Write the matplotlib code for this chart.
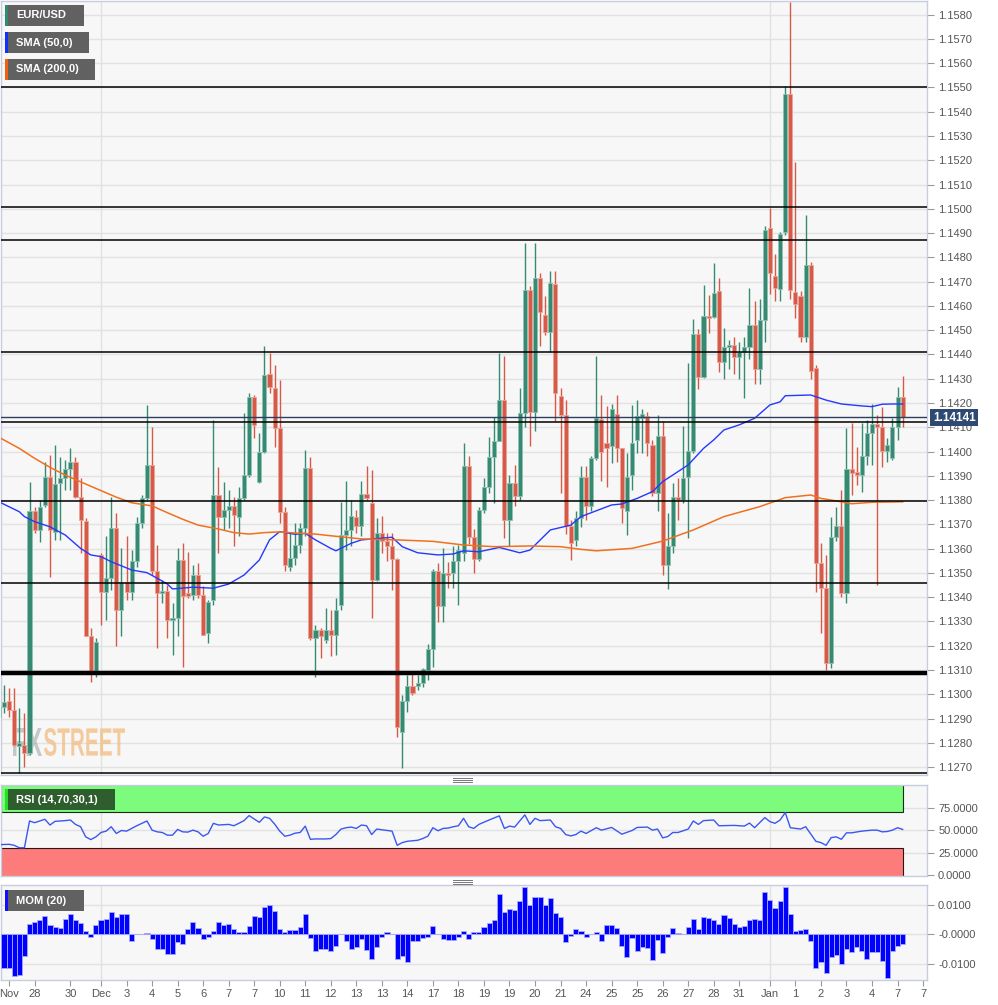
import numpy as np
import matplotlib
matplotlib.use('Agg')
import matplotlib.pyplot as plt
import matplotlib.transforms as mtransforms
from matplotlib.patches import Rectangle, PathPatch
from matplotlib.lines import Line2D
from matplotlib.textpath import TextPath
from matplotlib.font_manager import FontProperties

plt.rcParams['font.family'] = ['Liberation Sans', 'DejaVu Sans']

# ---------------- data (EUR/USD, 4h candles) ----------------
opens = [1.12908, 1.12949, 1.12974, 1.12936, 1.12785, 1.12792, 1.12757, 1.13753, 1.13677, 1.13780,
         1.13897, 1.13670, 1.13869, 1.13890, 1.13927, 1.13959, 1.13814, 1.13714, 1.13241, 1.13087,
         1.13574, 1.13423, 1.13478, 1.13684, 1.13348, 1.13464, 1.13423, 1.13547, 1.13705, 1.13808,
         1.13945, 1.13506, 1.13416, 1.13427, 1.13306, 1.13313, 1.13554, 1.13416, 1.13409, 1.13492,
         1.13409, 1.13252, 1.13389, 1.13821, 1.13732, 1.13760, 1.13776, 1.13732, 1.13808, 1.13904,
         1.14226, 1.13876, 1.13997, 1.14318, 1.14263, 1.14096, 1.13749, 1.13526, 1.13560, 1.13615,
         1.13684, 1.13931, 1.13231, 1.13265, 1.13224, 1.13266, 1.13245, 1.13369, 1.13657, 1.13678,
         1.13730, 1.13694, 1.13825, 1.13788, 1.13472, 1.13664, 1.13632, 1.13609, 1.13557, 1.12846,
         1.12974, 1.13034, 1.13034, 1.13048, 1.13100, 1.13185, 1.13508, 1.13364, 1.13498, 1.13498,
         1.13547, 1.13582, 1.13939, 1.13648, 1.13557, 1.13760, 1.13854, 1.13976, 1.14042, 1.14213,
         1.13719, 1.13870, 1.13815, 1.14158, 1.14666, 1.14165, 1.14714, 1.14563, 1.14491, 1.14691,
         1.14227, 1.14151, 1.13692, 1.13637, 1.13726, 1.13897, 1.13777, 1.13973, 1.14135, 1.14035,
         1.14024, 1.14154, 1.14014, 1.13757, 1.13904, 1.14046, 1.14138, 1.14145, 1.14028, 1.13829,
         1.14064, 1.13533, 1.13609, 1.13812, 1.13801, 1.13894, 1.14003, 1.14485, 1.14306, 1.14559,
         1.14553, 1.14662, 1.14370, 1.14430, 1.14440, 1.14390, 1.14410, 1.14430, 1.14520, 1.14340,
         1.14540, 1.14923, 1.14724, 1.14671, 1.14904, 1.15472, 1.14656, 1.14640, 1.14470, 1.14767,
         1.14343, 1.13539, 1.13436, 1.13127, 1.13649, 1.13693, 1.13416, 1.13928, 1.13914, 1.13903,
         1.13981, 1.14078, 1.14113, 1.14102, 1.14002, 1.13972, 1.14102, 1.14226]
highs = [1.13039, 1.13039, 1.13025, 1.13025, 1.12943, 1.12922, 1.13876, 1.13773, 1.13801, 1.13959,
         1.13986, 1.14027, 1.13979, 1.13965, 1.14014, 1.13979, 1.13890, 1.13725, 1.13272, 1.13231,
         1.13581, 1.13650, 1.13814, 1.13746, 1.13602, 1.13650, 1.13595, 1.13732, 1.13821, 1.14192,
         1.14103, 1.13615, 1.13471, 1.13451, 1.13375, 1.13602, 1.13622, 1.13588, 1.13533, 1.13540,
         1.13444, 1.13389, 1.14130, 1.13938, 1.13876, 1.13842, 1.13814, 1.13856, 1.14158, 1.14240,
         1.14233, 1.14075, 1.14435, 1.14405, 1.14357, 1.14295, 1.13773, 1.13670, 1.13705, 1.13705,
         1.14007, 1.13979, 1.13286, 1.13272, 1.13355, 1.13348, 1.13396, 1.13794, 1.13877, 1.13801,
         1.13760, 1.13880, 1.13939, 1.13925, 1.13726, 1.13733, 1.13664, 1.13664, 1.13560, 1.12997,
         1.13079, 1.13096, 1.13079, 1.13107, 1.13207, 1.13515, 1.13542, 1.13602, 1.13543, 1.13609,
         1.13616, 1.14035, 1.13980, 1.13680, 1.13770, 1.13890, 1.14062, 1.14144, 1.14405, 1.14392,
         1.13904, 1.13945, 1.14261, 1.14861, 1.14683, 1.14861, 1.14735, 1.14639, 1.14745, 1.14745,
         1.14261, 1.14213, 1.13719, 1.13753, 1.13939, 1.13939, 1.13982, 1.14392, 1.14234, 1.14186,
         1.14197, 1.14234, 1.14014, 1.13994, 1.14193, 1.14213, 1.14175, 1.14165, 1.14048, 1.14151,
         1.14124, 1.13746, 1.13872, 1.13890, 1.14106, 1.14364, 1.14545, 1.14504, 1.14686, 1.14645,
         1.14776, 1.14714, 1.14510, 1.14460, 1.14470, 1.14450, 1.14470, 1.14673, 1.14620, 1.14630,
         1.14930, 1.15003, 1.14813, 1.14904, 1.15507, 1.15854, 1.15192, 1.14660, 1.14975, 1.14783,
         1.14356, 1.13624, 1.13574, 1.13732, 1.13773, 1.13841, 1.14095, 1.14116, 1.14020, 1.14116,
         1.14130, 1.14196, 1.14150, 1.14185, 1.14057, 1.14137, 1.14264, 1.14311]
lows = [1.12778, 1.12922, 1.12908, 1.12785, 1.12675, 1.12702, 1.12750, 1.13663, 1.13629, 1.13773,
        1.13485, 1.13636, 1.13636, 1.13842, 1.13842, 1.13808, 1.13581, 1.13238, 1.13052, 1.13073,
        1.13286, 1.13306, 1.13430, 1.13197, 1.13238, 1.13389, 1.13389, 1.13526, 1.13684, 1.13801,
        1.13492, 1.13190, 1.13375, 1.13231, 1.13162, 1.13238, 1.13114, 1.13396, 1.13389, 1.13396,
        1.13245, 1.13210, 1.13368, 1.13581, 1.13677, 1.13684, 1.13609, 1.13650, 1.13801, 1.13897,
        1.14055, 1.13869, 1.13993, 1.14240, 1.14020, 1.13705, 1.13506, 1.13506, 1.13533, 1.13581,
        1.13650, 1.13224, 1.13073, 1.13148, 1.13210, 1.13156, 1.13163, 1.13348, 1.13595, 1.13609,
        1.13664, 1.13650, 1.13801, 1.13314, 1.13465, 1.13582, 1.13547, 1.13431, 1.12825, 1.12695,
        1.12928, 1.12997, 1.13018, 1.13029, 1.13059, 1.13111, 1.13299, 1.13299, 1.13436, 1.13436,
        1.13369, 1.13547, 1.13620, 1.13499, 1.13547, 1.13746, 1.13829, 1.13788, 1.14042, 1.13643,
        1.13609, 1.13774, 1.13801, 1.14103, 1.14021, 1.14083, 1.14433, 1.14481, 1.14412, 1.14124,
        1.13829, 1.13660, 1.13554, 1.13609, 1.13691, 1.13719, 1.13753, 1.13966, 1.13877, 1.13856,
        1.13952, 1.13959, 1.13705, 1.13657, 1.13842, 1.13994, 1.13994, 1.13980, 1.13815, 1.13753,
        1.13492, 1.13433, 1.13581, 1.13719, 1.13787, 1.13643, 1.13993, 1.14257, 1.14302, 1.14487,
        1.14549, 1.14329, 1.14300, 1.14340, 1.14320, 1.14300, 1.14220, 1.14380, 1.14280, 1.14280,
        1.14450, 1.14650, 1.14620, 1.14620, 1.14893, 1.14630, 1.14550, 1.14450, 1.14450, 1.14300,
        1.13423, 1.13251, 1.13100, 1.13107, 1.13630, 1.13402, 1.13375, 1.13821, 1.13862, 1.13835,
        1.13944, 1.13944, 1.13450, 1.13938, 1.13958, 1.13965, 1.14047, 1.14102]
closes = [1.12949, 1.12970, 1.12936, 1.12792, 1.12798, 1.12757, 1.13753, 1.13677, 1.13773, 1.13897,
          1.13677, 1.13867, 1.13890, 1.13927, 1.13959, 1.13814, 1.13718, 1.13241, 1.13087, 1.13217,
          1.13423, 1.13478, 1.13684, 1.13348, 1.13464, 1.13423, 1.13547, 1.13705, 1.13808, 1.13945,
          1.13506, 1.13416, 1.13427, 1.13306, 1.13313, 1.13554, 1.13403, 1.13403, 1.13492, 1.13409,
          1.13245, 1.13382, 1.13821, 1.13732, 1.13760, 1.13776, 1.13739, 1.13808, 1.13904, 1.14226,
          1.14110, 1.13997, 1.14316, 1.14268, 1.14096, 1.13749, 1.13533, 1.13560, 1.13615, 1.13684,
          1.13931, 1.13231, 1.13265, 1.13238, 1.13265, 1.13245, 1.13348, 1.13657, 1.13678, 1.13735,
          1.13694, 1.13825, 1.13808, 1.13472, 1.13664, 1.13632, 1.13609, 1.13557, 1.12866, 1.12972,
          1.13034, 1.13007, 1.13048, 1.13103, 1.13185, 1.13508, 1.13364, 1.13498, 1.13491, 1.13547,
          1.13595, 1.13939, 1.13648, 1.13557, 1.13760, 1.13854, 1.13976, 1.14042, 1.14213, 1.13719,
          1.13870, 1.13815, 1.14158, 1.14666, 1.14165, 1.14714, 1.14577, 1.14491, 1.14694, 1.14243,
          1.14151, 1.13692, 1.13623, 1.13726, 1.13897, 1.13777, 1.13973, 1.14138, 1.14000, 1.14014,
          1.14175, 1.14014, 1.13767, 1.13897, 1.14035, 1.14145, 1.14154, 1.14035, 1.13829, 1.14065,
          1.13533, 1.13609, 1.13812, 1.13801, 1.13890, 1.14003, 1.14485, 1.14306, 1.14559, 1.14549,
          1.14655, 1.14368, 1.14430, 1.14440, 1.14390, 1.14410, 1.14430, 1.14520, 1.14340, 1.14540,
          1.14914, 1.14735, 1.14673, 1.14896, 1.15472, 1.14667, 1.14610, 1.14470, 1.14767, 1.14330,
          1.13539, 1.13436, 1.13127, 1.13649, 1.13693, 1.13416, 1.13928, 1.13910, 1.13903, 1.13981,
          1.14078, 1.14113, 1.14102, 1.14002, 1.14029, 1.14102, 1.14226, 1.14143]

# moving averages (read at sample candles)
sma50_idx = [0, 4, 5, 7, 10, 13, 16, 18, 20, 22, 26, 29, 31, 33, 34, 38, 42, 45, 48, 51, 53, 55, 58, 60, 62,
             65, 66, 69, 71, 75, 77, 79, 82, 86, 89, 91, 94, 98, 102, 104, 108, 112, 114, 117, 120, 122, 125,
             128, 130, 135, 138, 140, 142, 145, 148, 151, 153, 154, 159, 162, 165, 169, 171, 173, 175, 177]
sma50_val = [1.13793, 1.13752, 1.13732, 1.13711, 1.13690, 1.13656, 1.13601, 1.13574, 1.13567, 1.13546,
             1.13512, 1.13501, 1.13478, 1.13454, 1.13434, 1.13441, 1.13437, 1.13454, 1.13491, 1.13553,
             1.13636, 1.13670, 1.13659, 1.13663, 1.13636, 1.13601, 1.13591, 1.13622, 1.13636, 1.13643,
             1.13647, 1.13608, 1.13583, 1.13574, 1.13578, 1.13591, 1.13587, 1.13605, 1.13583, 1.13594,
             1.13677, 1.13697, 1.13732, 1.13756, 1.13780, 1.13784, 1.13807, 1.13835, 1.13876, 1.13945,
             1.14013, 1.14048, 1.14089, 1.14110, 1.14137, 1.14192, 1.14205, 1.14230, 1.14233, 1.14212,
             1.14196, 1.14188, 1.14185, 1.14195, 1.14196, 1.14196]
sma200_idx = [0, 4, 7, 10, 13, 17, 20, 23, 26, 30, 33, 36, 39, 43, 46, 49, 52, 55, 59, 62, 65,
              71, 78, 85, 91, 97, 104, 110, 114, 117, 124, 130, 136, 142, 149, 154, 159, 161, 165,
              167, 171, 177]
sma200_val = [1.14059, 1.14013, 1.13972, 1.13935, 1.13903, 1.13866, 1.13839, 1.13812, 1.13789, 1.13776,
              1.13748, 1.13721, 1.13697, 1.13681, 1.13666, 1.13660, 1.13666, 1.13669, 1.13663, 1.13660,
              1.13653, 1.13640, 1.13636, 1.13630, 1.13615, 1.13608, 1.13611, 1.13608, 1.13597, 1.13591,
              1.13601, 1.13631, 1.13677, 1.13732, 1.13773, 1.13810, 1.13821, 1.13807, 1.13793, 1.13785,
              1.13791, 1.13793]

# RSI (14)
rsi_idx = [0, 2, 3, 4, 5, 6, 7, 9, 10, 11, 13, 14, 15, 16, 17, 18, 19, 20, 21, 22, 23, 24, 25, 27, 28,
           29, 30, 31, 32, 33, 34, 35, 36, 37, 38, 39, 40, 41, 42, 43, 45, 46, 47, 48, 49, 50, 51, 52, 53,
           54, 55, 56, 57, 58, 59, 60, 61, 62, 64, 65, 66, 67, 68, 69, 70, 71, 72, 73, 74, 75, 77, 78, 79,
           80, 82, 83, 84, 85, 86, 87, 88, 89, 90, 91, 92, 93, 94, 96, 98, 99, 100, 101, 103, 104, 105,
           106, 108, 109, 110, 111, 112, 113, 114, 115, 117, 118, 120, 122, 124, 125, 127, 128, 129, 130,
           131, 132, 133, 135, 136, 137, 138, 140, 141, 144, 146, 147, 148, 150, 151, 152, 153, 154, 155,
           157, 158, 160, 161, 162, 163, 164, 165, 166, 167, 169, 171, 172, 173, 174, 175, 176, 177]
rsi_val = [33.8, 34.2, 33.1, 30.4, 30.4, 60.2, 58.3, 62.1, 55.7, 59.8, 60.6, 61.3, 56.4, 53.8, 42.5, 39.5,
           42.5, 47.4, 48.9, 53.8, 46.3, 49.6, 48.9, 54.9, 57.6, 60.2, 50.0, 48.1, 47.4, 44.4, 44.4, 50.8,
           48.1, 47.8, 50.0, 48.1, 43.2, 46.3, 57.6, 55.7, 56.4, 54.9, 57.6, 60.6, 66.2, 62.5, 58.7, 64.7,
           63.2, 56.8, 48.9, 43.2, 44.4, 46.6, 47.4, 54.5, 39.8, 40.2, 40.2, 40.6, 45.1, 51.2, 52.7, 53.4,
           51.9, 55.7, 54.9, 45.1, 51.2, 50.4, 48.9, 33.1, 36.1, 37.6, 38.7, 40.6, 43.2, 52.7, 49.3, 51.9,
           52.3, 53.8, 54.9, 63.2, 53.8, 51.9, 56.4, 61.3, 65.9, 51.9, 54.5, 53.4, 67.0, 56.4, 63.2, 60.6,
           61.3, 53.8, 51.9, 45.1, 43.6, 45.1, 48.9, 46.3, 52.7, 50.0, 53.0, 45.5, 49.6, 53.0, 53.4, 50.0,
           51.2, 41.4, 42.9, 47.4, 47.4, 51.2, 60.2, 56.4, 60.6, 61.3, 54.9, 55.3, 54.5, 57.9, 52.7, 64.0,
           59.5, 57.6, 61.3, 69.6, 52.7, 51.2, 53.8, 37.6, 36.1, 33.1, 41.7, 42.5, 39.8, 47.0, 47.0, 48.9,
           50.0, 50.0, 48.1, 48.5, 50.0, 52.7, 50.8]

# Momentum (20)
mom = [-0.0112, -0.0112, -0.0112, -0.0139, -0.0136, -0.0074, 0.0034, 0.0040, 0.0049, 0.0062,
       0.0032, 0.0026, 0.0020, 0.0052, 0.0068, 0.0049, 0.0037, 0.0011, -0.0010, 0.0032,
       0.0049, 0.0052, 0.0076, 0.0058, 0.0068, 0.0068, -0.0022, 0.0002, 0.0002, 0.0003,
       -0.0017, -0.0048, -0.0050, -0.0065, -0.0067, -0.0027, -0.0031, 0.0017, 0.0041, 0.0020,
       -0.0017, -0.0008, 0.0012, 0.0040, 0.0031, 0.0035, 0.0018, 0.0009, 0.0009, 0.0028,
       0.0062, 0.0060, 0.0092, 0.0099, 0.0080, 0.0019, 0.0009, 0.0015, 0.0015, 0.0026,
       0.0069, -0.0014, -0.0057, -0.0051, -0.0051, -0.0055, -0.0039, 0.0000, -0.0022, -0.0050,
       -0.0042, -0.0017, -0.0053, -0.0082, -0.0043, -0.0010, 0.0008, 0.0000, -0.0082, -0.0073,
       -0.0093, -0.0022, -0.0022, -0.0014, -0.0008, 0.0028, 0.0000, -0.0016, -0.0019, -0.0019,
       -0.0010, 0.0012, -0.0016, 0.0008, 0.0009, 0.0023, 0.0037, 0.0049, 0.0137, 0.0074,
       0.0085, 0.0081, 0.0114, 0.0160, 0.0100, 0.0125, 0.0125, 0.0100, 0.0123, 0.0072,
       0.0058, -0.0025, -0.0005, 0.0017, 0.0012, -0.0008, 0.0000, 0.0009, -0.0022, 0.0031,
       0.0031, 0.0020, -0.0040, -0.0078, -0.0011, -0.0057, -0.0042, -0.0045, -0.0087, -0.0019,
       -0.0062, -0.0008, 0.0020, 0.0006, 0.0000, 0.0023, 0.0051, 0.0017, 0.0057, 0.0055,
       0.0049, 0.0035, 0.0065, 0.0055, 0.0035, 0.0026, 0.0028, 0.0049, 0.0052, 0.0047,
       0.0142, 0.0117, 0.0089, 0.0111, 0.0160, 0.0068, 0.0011, 0.0015, 0.0019, -0.0022,
       -0.0114, -0.0095, -0.0131, -0.0078, -0.0070, -0.0099, -0.0050, -0.0061, -0.0042, -0.0056,
       -0.0084, -0.0061, -0.0061, -0.0091, -0.0147, -0.0057, -0.0039, -0.0033]

levels = [1.1550, 1.15006, 1.14872, 1.14409, 1.14121, 1.13796, 1.13457, 1.12677]
strong_level = 1.13086
last_price = 1.14141

tick_pos = [2, 7, 14, 20, 25, 30, 35, 40, 45, 50, 55, 60, 65, 70, 75, 80, 85, 90, 95, 100, 105, 110,
            115, 120, 125, 130, 135, 140, 145, 151, 156, 161, 166, 171, 176, 181]
tick_lab = ['Nov', '28', '30', 'Dec', '3', '4', '5', '6', '7', '7', '10', '11', '12', '13', '13', '14',
            '17', '18', '19', '19', '20', '21', '24', '25', '25', '26', '27', '28', '31', 'Jan', '1', '2',
            '3', '4', '7', '7']

# ---------------- figure ----------------
W, H = 998, 1005
fig = plt.figure(figsize=(W / 100, H / 100), dpi=100)
fig.patch.set_facecolor('white')

def px_axes(x0, y0, x1, y1):
    return fig.add_axes([x0 / W, 1 - y1 / H, (x1 - x0) / W, (y1 - y0) / H])

ax = px_axes(1, 1, 927, 775)
ax_rsi = px_axes(1, 785, 927, 876)
ax_mom = px_axes(1, 885, 927, 979.5)

xl = (1 + 1.1) / 5.106
xr = (927 + 1.1) / 5.106
spine_col = '#c8cce0'
grid_col = '#e2e2e2'
lab_col = '#555555'

for a in (ax, ax_rsi, ax_mom):
    a.set_facecolor('#f7f7f7')
    a.set_xlim(xl, xr)
    for s in a.spines.values():
        s.set_color(spine_col)
        s.set_linewidth(1)
    a.yaxis.tick_right()
    a.tick_params(axis='y', length=5, width=0.8, color='#999999', labelcolor=lab_col,
                  labelsize=8, pad=3)
    a.set_axisbelow(True)
    for gx in (20, 151):
        a.axvline(gx, color=grid_col, lw=1, zorder=0)

idx = np.arange(len(closes))
o = np.array(opens); h = np.array(highs); l = np.array(lows); c = np.array(closes)
up = c >= o
col_up, col_dn = '#378a72', '#d65a48'
colors = np.where(up, col_up, col_dn)
edges = np.where(up, '#8cc2b2', '#eba398')

# price panel
ticks = np.round(np.arange(1.127, 1.1585, 0.001), 4)
ax.set_yticks(ticks)
ax.set_yticklabels(['%.4f' % t for t in ticks])
ax.set_ylim(1.126673, 1.158564)
ax.set_xticks([])
for t in ticks:
    ax.axhline(t, color=grid_col, lw=1, zorder=0)

# watermark
fp = FontProperties(family='Liberation Sans', weight='bold')

def watermark(text, x0, x1, ytop, ybot, color, alpha):
    tp = TextPath((0, 0), text, size=1, prop=fp)
    bb = tp.get_extents()
    tr = (mtransforms.Affine2D().translate(-bb.x0, -bb.y0)
          .scale((x1 - x0) / bb.width, (ybot - ytop) / bb.height)
          .translate(x0, H - ybot))
    ax.add_artist(PathPatch(tp, transform=tr, fc=color, ec='none', alpha=alpha, zorder=1))

watermark('FX', 13, 42, 728, 756, '#a0a0a0', 0.55)
watermark('STREET', 44, 125, 728, 756, '#f3bf86', 0.8)

ax.vlines(idx, l, h, colors=colors, lw=1, zorder=3)
ax.bar(idx, np.maximum(np.abs(c - o), 0.00004), bottom=np.minimum(o, c), width=0.8,
       color=colors, edgecolor=edges, linewidth=0.6, zorder=4)

ax.plot(sma50_idx, sma50_val, color='#2438ff', lw=1, zorder=5)
ax.plot(sma200_idx, sma200_val, color='#f07020', lw=1.1, zorder=5)

for lv in levels:
    ax.axhline(lv, color='black', lw=1.1, zorder=6)
ax.axhline(strong_level, color='black', lw=3.2, zorder=6)
ax.axhline(last_price, color='#2e3f5e', lw=1, zorder=6)

# last price tag
fig.text(933 / W, 1 - 417.5 / H, '%.5f' % last_price, color='white', fontsize=8.5,
         fontweight='bold', va='center', ha='left',
         bbox=dict(boxstyle='square,pad=0.22', fc='#2f4a72', ec='none'))

# RSI panel
ax_rsi.set_ylim(-1.1, 100.3)
ax_rsi.set_yticks([0, 25, 50, 75])
ax_rsi.set_yticklabels(['0.0000', '25.0000', '50.0000', '75.0000'])
ax_rsi.set_xticks([])
for t in (25, 50, 75):
    ax_rsi.axhline(t, color=grid_col, lw=1, zorder=0)
last_x = len(closes) - 1 + 0.05
ax_rsi.add_patch(Rectangle((xl, 70), last_x - xl, 31, fc='#7dfb7d', ec='#143014', lw=0.8, zorder=1))
ax_rsi.add_patch(Rectangle((xl, -2), last_x - xl, 32, fc='#fd7b7b', ec='#301414', lw=0.8, zorder=1))
ax_rsi.plot(rsi_idx, rsi_val, color='#3a58f0', lw=1, zorder=3)

# MOM panel
ax_mom.set_ylim(-0.01524, 0.01663)
ax_mom.set_yticks([-0.01, 0, 0.01])
ax_mom.set_yticklabels(['-0.0100', '-0.0000', '0.0100'])
for t in (-0.01, 0, 0.01):
    ax_mom.axhline(t, color=grid_col, lw=1, zorder=0)
ax_mom.bar(idx, mom, width=1.0, color='#0000ff', edgecolor='#a8a8ff', linewidth=0.6, zorder=3)
ax_mom.set_xticks(tick_pos)
ax_mom.set_xticklabels(tick_lab)
ax_mom.tick_params(axis='x', length=4, width=0.8, color='#999999', labelcolor=lab_col,
                   labelsize=8, pad=3)

# label boxes
def label_box(x0, y0, w, hh, text, stripe, box):
    fig.add_artist(Rectangle((x0 / W, 1 - (y0 + hh) / H), w / W, hh / H,
                             transform=fig.transFigure, fc=box, ec='none', zorder=5))
    fig.add_artist(Rectangle((x0 / W, 1 - (y0 + hh) / H), 2.5 / W, hh / H,
                             transform=fig.transFigure, fc=stripe, ec='none', zorder=6))
    fig.text((x0 + 11) / W, 1 - (y0 + hh / 2) / H, text, color='white', fontsize=8,
             fontweight='bold', va='center', ha='left', zorder=7)

label_box(5, 5, 79, 21, 'EUR/USD', '#2e8b72', '#616161')
label_box(5, 32, 84, 21, 'SMA (50,0)', '#1030ff', '#616161')
label_box(5, 59, 90, 21, 'SMA (200,0)', '#f06010', '#616161')
label_box(5, 789, 110, 21, 'RSI (14,70,30,1)', '#22e022', '#2e5e2e')
label_box(5, 890, 79, 21, 'MOM (20)', '#1010ff', '#616161')

# pane resize handles
for yy in (778, 880):
    for k in range(3):
        fig.add_artist(Line2D([453 / W, 472 / W], [1 - (yy + 2 * k) / H] * 2,
                              transform=fig.transFigure, color='#777777', lw=0.7))

fig.savefig('out.png', dpi=100, facecolor='white')
